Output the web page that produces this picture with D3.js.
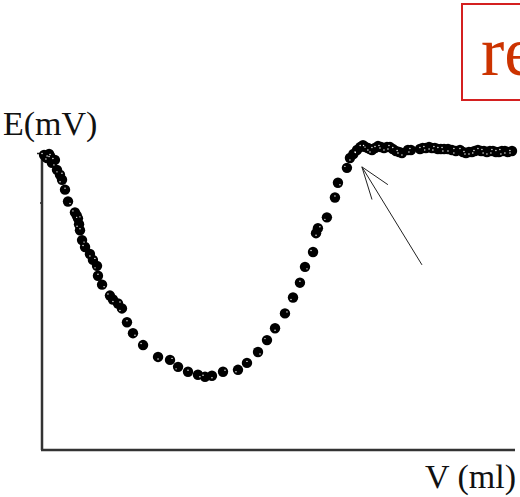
<!DOCTYPE html>
<html>
<head>
<meta charset="utf-8">
<script src="https://cdn.jsdelivr.net/npm/d3@7"></script>
<style>
  html, body { margin: 0; padding: 0; background: #fff; }
  svg { display: block; }
</style>
</head>
<body>
<svg id="chart" width="520" height="497"></svg>
<script>
// Volume of titrant added (ml)
const volume = [
  0.13, 0.25, 0.32, 0.45, 0.51, 0.63, 0.82, 0.95, 1.14, 1.27, 1.46, 1.65,
  2.09, 2.20, 2.28, 2.35, 2.41, 2.54, 2.73, 3.04, 3.23, 3.49, 3.55,
  3.81, 4.31, 4.50, 4.82, 5.07, 5.39, 5.77, 6.41, 7.36, 8.12,
  8.63, 9.26, 9.89, 10.34, 10.78, 11.48, 12.43, 13.00, 13.70, 14.27,
  14.78, 15.41, 15.92, 16.36, 16.68, 17.19, 17.38, 17.50, 18.07, 18.58,
  18.77, 19.34, 19.53, 19.75, 19.98, 20.18, 20.36, 20.52, 20.67, 20.80, 20.93, 21.12, 21.31, 21.50, 21.69, 21.88, 22.07,
  22.25, 22.45, 22.65, 22.83, 23.21, 23.40, 23.97, 24.15, 24.35, 24.55, 24.73, 24.92, 25.11, 25.30, 25.50, 25.75, 26.00, 26.25, 26.51,
  26.70, 26.89, 27.08, 27.27, 27.45, 27.65, 27.85, 28.03, 28.22, 28.41, 28.60, 28.79, 28.98, 29.17, 29.36, 29.55, 29.81
];
// Potential (mV)
const potential = [
  298, 296, 295, 299, 297, 290, 293, 283, 278, 273, 263, 251,
  240, 237, 234, 228, 222, 212, 205, 198, 192, 186, 176,
  167, 156, 152, 148, 143, 129, 118, 106, 94, 91,
  84, 79, 76, 74, 75, 79, 81, 88, 99, 111,
  123, 138, 154, 169, 185, 200, 219, 224, 235, 255,
  270, 285, 295, 299, 303, 306, 308, 306, 305, 304, 303, 305, 307, 306, 305, 306, 306,
  304, 302, 301, 300, 303, 303, 304, 305, 305, 306, 305, 305, 304, 304, 304, 304, 303, 302, 303,
  301, 300, 301, 301, 302, 303, 302, 302, 301, 302, 302, 301, 301, 302, 302, 301, 302
];
// Arrow annotation pointing at the equivalence point: [tail, tip, head1, head2]
const arrowV = [24.10, 20.29, 20.93, 21.94];
const arrowE = [187, 286, 253, 268];

const yTicks = [300, 250];
const xLabel = "V (ml)";
const yLabel = "E(mV)";
const boxText = "re";

const svg = d3.select("#chart");
const x = d3.scaleLinear().domain([0, 30]).range([42, 515]);
const y = d3.scaleLinear().domain([0, 300]).range([450, 153]);

// Axes
const yAxis = d3.axisLeft(y).tickValues(yTicks).tickSize(5).tickFormat("");
const gy = svg.append("g").attr("transform", "translate(42,0)").call(yAxis);
gy.select(".domain").remove();
gy.selectAll(".tick line").attr("stroke", "#222").attr("stroke-width", 1.5)
  .attr("x1", (d) => d === 300 ? 5 : 0).attr("x2", (d) => d === 300 ? -5 : -2);
svg.append("line").attr("x1", x(0)).attr("x2", x(0)).attr("y1", y(300)).attr("y2", y(0))
  .attr("stroke", "#333").attr("stroke-width", 2.5);
svg.append("line").attr("x1", x(0) - 1).attr("x2", x(30)).attr("y1", y(0)).attr("y2", y(0))
  .attr("stroke", "#333").attr("stroke-width", 2.5);

// Data
const pts = volume.map((v, i) => ({ v, e: potential[i] }));
svg.append("path").datum(pts.filter(d => d.v > 20))
  .attr("d", d3.line().x(d => x(d.v)).y(d => y(d.e)))
  .attr("fill", "none").attr("stroke", "#000").attr("stroke-width", 1);
const g = svg.append("g");
g.selectAll("circle.p").data(pts).join("circle").attr("class", "p")
  .attr("cx", d => x(d.v)).attr("cy", d => y(d.e)).attr("r", 5.2).attr("fill", "#000");
// speckle
g.selectAll("circle.s").data(pts).join("circle").attr("class", "s")
  .attr("cx", (d, i) => x(d.v) + ((i % 3) - 1) * 2).attr("cy", (d, i) => y(d.e) + ((i % 2) ? 2 : -1.5))
  .attr("r", 0.7).attr("fill", "#fff");

// Arrow
const ax = arrowV.map(x), ay = arrowE.map(y);
[[0, 1], [1, 2], [1, 3]].forEach(([a, b]) => {
  svg.append("line").attr("x1", ax[a]).attr("y1", ay[a]).attr("x2", ax[b]).attr("y2", ay[b])
    .attr("stroke", "#222").attr("stroke-width", 1);
});

// Labels
svg.append("text").attr("x", 3).attr("y", 135).text(yLabel)
  .attr("font-family", "'Liberation Serif', 'Times New Roman', serif").attr("font-size", 34).attr("fill", "#111");
svg.append("text").attr("x", 516).attr("y", 488).attr("text-anchor", "end").text(xLabel)
  .attr("font-family", "'Liberation Serif', 'Times New Roman', serif").attr("font-size", 34).attr("fill", "#111");

// Red box (cropped at the right edge, as in the reference)
svg.append("rect").attr("x", 462).attr("y", 4).attr("width", 80).attr("height", 96)
  .attr("fill", "none").attr("stroke", "#d42020").attr("stroke-width", 2);
svg.append("text").attr("x", 481).attr("y", 75).text(boxText)
  .attr("font-family", "'Liberation Serif', 'Times New Roman', serif").attr("font-size", 70).attr("fill", "#cc3300");
</script>
</body>
</html>
